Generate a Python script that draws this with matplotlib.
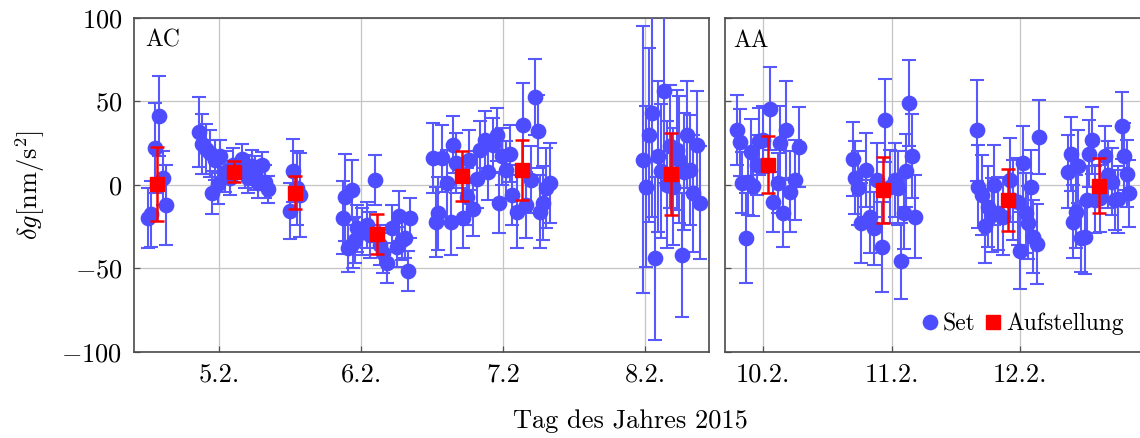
import matplotlib
matplotlib.use('Agg')
import matplotlib.pyplot as plt
from matplotlib.lines import Line2D

plt.rcParams['font.family'] = 'cmr10'
plt.rcParams['mathtext.fontset'] = 'cm'
plt.rcParams['axes.formatter.use_mathtext'] = True

# AC (left panel), day of year 2015, delta g in nm/s^2, 1-sigma
ac_day = [35.500, 35.519, 35.547, 35.577, 35.606, 35.623,
          35.859, 35.876, 35.906, 35.935, 35.946, 35.970, 35.993, 36.005, 36.040, 36.075,
          36.099, 36.158, 36.181, 36.204, 36.228, 36.251, 36.275, 36.303, 36.322, 36.345,
          36.498, 36.521, 36.547, 36.568,
          36.869, 36.885, 36.908, 36.932, 36.942, 36.956, 36.968, 37.003, 37.038, 37.061,
          37.096, 37.132, 37.155, 37.179, 37.214, 37.249, 37.265, 37.285, 37.308, 37.327, 37.343,
          37.503, 37.526, 37.542, 37.566, 37.601, 37.630, 37.648, 37.667, 37.714, 37.742,
          37.761, 37.789, 37.817, 37.836, 37.871, 37.894, 37.930, 37.954, 37.972, 37.989,
          38.019, 38.047,
          38.059, 38.094, 38.141, 38.160, 38.193, 38.223, 38.242, 38.258, 38.282, 38.301, 38.329,
          38.982, 39.003, 39.027, 39.045, 39.068, 39.092, 39.108, 39.132, 39.151, 39.174,
          39.197, 39.221, 39.239, 39.256, 39.272, 39.296, 39.315, 39.338, 39.362, 39.385]
ac_val = [-20, -17.5, 22, 41, 4, -12,
          31.4, 24.6, 21.4, 19, -4.6, 15, 0.4, 17, 8, 4,
          12, 15.4, 8, 4, 11, 7, 1.4, 11.6, 2, -2.6,
          -15.6, 8.6, -2, -6,
          -19.6, -7.4, -38, -3, -35, -33, -26, -28, -24, -30,
          3, -36, -41, -47, -26, -37, -18.6, -33, -32, -51.4, -20,
          16, -22.4, -17, 16, 1, -22, 24, 13, -20, -7,
          15, -14.6, 3.4, 21, 27, 8, 24, 30, -10.6, 17,
          9, 18.6,
          -6, -16, 36, -12, 3, 52.6, 32, -16, -11, -2, 1,
          15, -1, 30, 43, -44, 17, 8.4, 56, 0, 23,
          -1, 21, 15, -42, 8, 30, 9, -5, 24, -10.6]
ac_err = [18, 20, 27, 24, 16, 24,
          21, 18, 15, 14, 13, 12, 12, 10, 12, 10,
          10, 9, 10, 9, 10, 10, 9, 8, 10, 8,
          17, 19, 22, 25,
          22, 26, 14, 18, 15, 14, 14, 14, 14, 14,
          15, 12, 12, 12, 14, 12, 15, 12, 12, 12, 12,
          21, 21, 22, 20, 20, 20, 17, 18, 18, 17,
          18, 16, 17, 17, 17, 17, 16, 16, 18, 17,
          17, 17,
          18, 22, 25, 20, 20, 23, 22, 22, 22, 24, 24,
          80, 48, 52, 62, 49, 45, 40, 55, 38, 37,
          35, 36, 38, 37, 35, 32, 33, 35, 32, 34]

ac_setup_day = [35.561, 36.104, 36.533, 37.108, 37.706, 38.130, 39.179]
ac_setup_val = [0.6, 8, -4.6, -29.4, 5.4, 9, 6.6]
ac_setup_err = [22, 6, 10, 12, 15, 18, 24.5]

# AA (right panel)
aa_day = [40.797, 40.818, 40.832, 40.865, 40.883, 40.902, 40.922, 40.949, 40.969, 41.000,
          41.052, 41.078, 41.117, 41.130, 41.156, 41.175, 41.208, 41.247, 41.281,
          41.701, 41.715, 41.740, 41.759, 41.800, 41.832, 41.863, 41.884, 41.928, 41.949,
          41.988, 42.027, 42.052, 42.073, 42.097, 42.112, 42.136, 42.157, 42.182,
          42.663, 42.676, 42.702, 42.728, 42.754, 42.780, 42.798, 42.832, 42.871, 42.923,
          42.949, 42.988, 43.001, 43.022, 43.048, 43.065, 43.083, 43.104, 43.131, 43.149,
          43.377, 43.396, 43.416, 43.437, 43.455, 43.474, 43.507, 43.521, 43.541, 43.560,
          43.585, 43.624, 43.663, 43.689, 43.716, 43.741, 43.767, 43.793, 43.811, 43.832, 43.853]
aa_val = [32.6, 25.4, 1.4, -32, 2, 19.6, -0.6, 12, 26, 27,
          45.6, -10, 1, 25, -17, 33, -4, 3, 22.6,
          15.4, 4.4, -2, -22.6, 9, -19, -26, 3, -37, 38.6,
          -1, 3, -2, -45.6, -16.6, 8.6, 49, 17.4, -19,
          32.6, -1, -6, -24.6, -13, -18, 0, -17, -19, 3,
          -9, -10, -39.4, 13, -17, -22.6, -1, -31, -35.4, 28.6,
          8, 18.4, -22, -16, 11, -32, -31.4, -9, 18.6, 26.6,
          -9, -8, 17, 6, 2, -9, -8.6, 35.4, 17, 6.6, -5]
aa_err = [21, 20, 18, 27, 20, 20, 18, 18, 20, 20,
          25, 18, 18, 22, 20, 29, 24, 24, 24,
          22, 22, 22, 24, 22, 22, 22, 22, 27, 25,
          22, 22, 22, 23, 22, 22, 26, 25, 25,
          30, 25, 24, 22, 24, 22, 24, 22, 23, 25,
          24, 26, 23, 22, 24, 22, 22, 22, 24, 22,
          22, 22, 22, 22, 22, 20, 22, 20, 20, 20,
          20, 20, 18, 20, 20, 18, 20, 20, 20, 20, 20]

aa_setup_day = [41.039, 41.935, 42.910, 43.616]
aa_setup_val = [12, -3, -9, -0.4]
aa_setup_err = [17, 19.6, 18.5, 16.5]

blue = '#4d4dff'
red = '#ff0000'
H = 438.0
W = 1140.0

fig = plt.figure(figsize=(11.4, 4.38), dpi=100)
ax1 = fig.add_axes([133.5 / W, (H - 351.7) / H, (709.3 - 133.5) / W, (351.7 - 18) / H])
ax2 = fig.add_axes([724.7 / W, (H - 351.7) / H, (W - 724.7) / W, (351.7 - 18) / H])


def draw_panel(ax, day, val, err, sday, sval, serr, name):
    ax.errorbar(day, val, yerr=err, fmt='o', color=blue, ecolor='#5858ff',
                markersize=10.3, elinewidth=1.5, capsize=5, capthick=1.5,
                label='Set', zorder=3)
    ax.errorbar(sday, sval, yerr=serr, fmt='s', color=red, ecolor=red,
                markersize=10.5, elinewidth=1.8, capsize=5.2, capthick=1.8,
                label='Aufstellung', zorder=4)
    ax.set_ylim(-100, 100)
    ax.set_yticks([-100, -50, 0, 50, 100])
    ax.grid(True, color='#c4c4c4', linewidth=0.9, zorder=0)
    ax.set_axisbelow(True)
    ax.tick_params(direction='in', length=4, width=0.9, color='#505050',
                   labelsize=19, pad=8)
    for sp in ax.spines.values():
        sp.set_color('#4a4a4a')
        sp.set_linewidth(1.2)
    ax.text(0.02, 0.965, name, transform=ax.transAxes, fontsize=17,
            va='top', ha='left')


draw_panel(ax1, ac_day, ac_val, ac_err, ac_setup_day, ac_setup_val, ac_setup_err, 'AC')
draw_panel(ax2, aa_day, aa_val, aa_err, aa_setup_day, aa_setup_val, aa_setup_err, 'AA')

ax1.set_xlim(35.396, 39.451)
ax1.set_xticks([36, 37, 38, 39])
ax1.set_xticklabels(['5.2.', '6.2.', '7.2', '8.2.'])

ax2.set_xlim(40.699, 43.936)
ax2.set_xticks([41, 42, 43])
ax2.set_xticklabels(['10.2.', '11.2.', '12.2.'])
ax2.tick_params(labelleft=False)
ax2.spines['right'].set_visible(False)

ax1.set_ylabel(r'$\delta g[\mathrm{nm/s^2}]$', fontsize=19, labelpad=10)

hs = [Line2D([], [], marker='o', color=blue, linestyle='none', markersize=10.3),
      Line2D([], [], marker='s', color=red, linestyle='none', markersize=10.5)]
ax2.legend(hs, ['Set', 'Aufstellung'], loc='lower right', ncol=2, frameon=False,
           fontsize=17, handlelength=0.8, handletextpad=0.15, columnspacing=0.35,
           borderaxespad=0.3, bbox_to_anchor=(1.0, 0.0))

fig.text(630 / W, (H - 421) / H, 'Tag des Jahres 2015', fontsize=19,
         ha='center', va='center')

fig.savefig('out.png', dpi=100)
